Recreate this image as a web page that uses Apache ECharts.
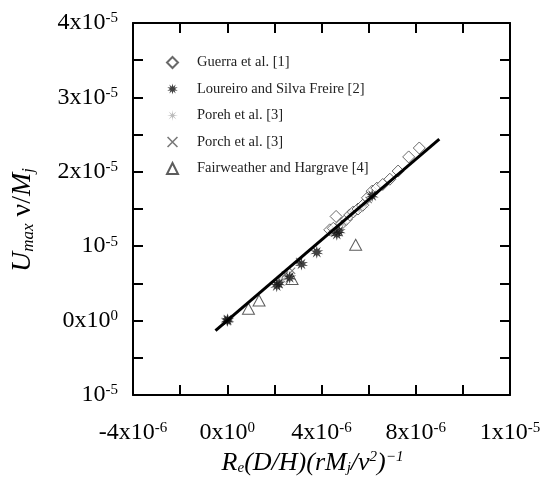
<!DOCTYPE html>
<html>
<head>
<meta charset="utf-8">
<script src="https://cdn.jsdelivr.net/npm/echarts@6/dist/echarts.min.js"></script>
<style>
  html, body { margin: 0; padding: 0; background: #fff; }
  #chart { width: 544px; height: 481px; }
</style>
</head>
<body>
<div id="chart"></div>
<script>
// Dimensionless maximum velocity against the scaled jet parameter.
const guerra = [
  [4.35e-6, 1.22e-5], [4.50e-6, 1.24e-5], [4.62e-6, 1.40e-5], [4.85e-6, 1.30e-5],
  [5.05e-6, 1.36e-5], [5.20e-6, 1.42e-5], [5.35e-6, 1.46e-5], [5.55e-6, 1.50e-5],
  [5.75e-6, 1.55e-5], [5.95e-6, 1.65e-5], [6.15e-6, 1.74e-5], [6.35e-6, 1.78e-5],
  [6.60e-6, 1.83e-5], [6.90e-6, 1.90e-5], [7.25e-6, 2.01e-5], [7.70e-6, 2.20e-5],
  [8.15e-6, 2.32e-5]
];
const loureiro = [
  [0, 0], [0.02e-6, 0.01e-5], [2.10e-6, 0.47e-5], [2.20e-6, 0.50e-5], [2.65e-6, 0.58e-5],
  [3.15e-6, 0.76e-5], [3.80e-6, 0.92e-5], [4.65e-6, 1.16e-5], [4.75e-6, 1.20e-5],
  [6.15e-6, 1.68e-5]
];
const porehA = [
  [2.35e-6, 0.55e-5], [2.55e-6, 0.60e-5], [4.45e-6, 1.20e-5], [4.90e-6, 1.30e-5],
  [5.30e-6, 1.44e-5], [5.60e-6, 1.50e-5], [5.85e-6, 1.56e-5]
];
const porehB = [
  [2.45e-6, 0.62e-5], [2.75e-6, 0.67e-5], [3.05e-6, 0.80e-5], [4.55e-6, 1.17e-5],
  [6.00e-6, 1.62e-5]
];
const fairweather = [
  [0.90e-6, 0.16e-5], [1.35e-6, 0.27e-5], [2.75e-6, 0.56e-5], [5.45e-6, 1.02e-5]
];
const fitLine = [[-0.5e-6, -0.135e-5], [9.0e-6, 2.44e-5]];

const seriesNames = [
  'Guerra et al. [1]',
  'Loureiro and Silva Freire [2]',
  'Poreh et al. [3]',
  'Porch et al. [3]',
  'Fairweather and Hargrave [4]'
];

// Tick labels: [mantissa part, exponent]
const xTickValues = [-4e-6, 0, 4e-6, 8e-6, 1.2e-5];
const xTickLabels = [['-4x10', '-6'], ['0x10', '0'], ['4x10', '-6'], ['8x10', '-6'], ['1x10', '-5']];
const yTickValues = [-1e-5, 0, 1e-5, 2e-5, 3e-5, 4e-5];
const yTickLabels = [['10', '-5'], ['0x10', '0'], ['10', '-5'], ['2x10', '-5'], ['3x10', '-5'], ['4x10', '-5']];

const SERIF = "'Liberation Serif', 'Times New Roman', serif";

function tickFormatter(values, labels) {
  return function (v) {
    const i = values.findIndex(t => Math.abs(t - v) < 1e-12);
    return i < 0 ? '' : '{b|' + labels[i][0] + '}{s|' + labels[i][1] + '}';
  };
}
const tickRich = {
  b: { fontFamily: SERIF, fontSize: 24, color: '#000', lineHeight: 24 },
  s: { fontFamily: SERIF, fontSize: 15, color: '#000', lineHeight: 15, verticalAlign: 'top' }
};

// Symbol outlines
function burstPath(n, rOut, rIn) {
  let d = '';
  for (let k = 0; k < 2 * n; k++) {
    const r = k % 2 === 0 ? rOut : rIn;
    const a = Math.PI * k / n;
    const x = (10 + r * Math.sin(a)).toFixed(2);
    const y = (10 - r * Math.cos(a)).toFixed(2);
    d += (k === 0 ? 'M' : 'L') + x + ',' + y;
  }
  return 'path://' + d + 'Z';
}
const burstSymbol = burstPath(10, 10, 4.5);
const asteriskSymbol = burstPath(8, 10, 2.6);
const crossSymbol = 'path://M0,1L1,0L10,9L9,10ZM9,0L10,1L1,10L0,9Z';

const axisLineStyle = { color: '#000', width: 2 };
const tickStyle = { show: true, inside: true, length: 10, lineStyle: { color: '#000', width: 2 } };

const xBase = { type: 'value', min: -4e-6, max: 1.2e-5, interval: 2e-6 };
const yBase = { type: 'value', min: -1e-5, max: 4e-5, interval: 0.5e-5 };

const chart = echarts.init(document.getElementById('chart'), null, { renderer: 'canvas' });
chart.setOption({
  animation: false,
  backgroundColor: '#fff',
  grid: { left: 133, top: 23, width: 377, height: 374, containLabel: false },
  legend: {
    orient: 'vertical',
    left: 161,
    top: 50,
    padding: 5,
    itemWidth: 11,
    itemHeight: 11,
    itemGap: 11.5,
    selectedMode: false,
    data: seriesNames,
    textStyle: {
      fontFamily: SERIF, fontSize: 14.5, color: '#222', lineHeight: 14,
      padding: [0, 0, 0, 14]
    }
  },
  xAxis: [
    Object.assign({}, xBase, {
      position: 'bottom',
      axisLine: { show: true, onZero: false, lineStyle: axisLineStyle },
      axisTick: tickStyle,
      splitLine: { show: false },
      axisLabel: { formatter: tickFormatter(xTickValues, xTickLabels), rich: tickRich, margin: 26, showMinLabel: true, showMaxLabel: true },
      name: '{i|R}{sub|e}{i|(D/H)(rM}{sub|j}{i|/ν}{sup|2}{i|)}{sup|−1}',
      nameLocation: 'middle',
      nameGap: 55,
      nameTextStyle: {
        padding: [0, 18, 0, 0],
        rich: {
          i: { fontFamily: SERIF, fontStyle: 'italic', fontSize: 26, color: '#000', lineHeight: 26 },
          sub: { fontFamily: SERIF, fontStyle: 'italic', fontSize: 15, color: '#000', lineHeight: 15, verticalAlign: 'bottom' },
          sup: { fontFamily: SERIF, fontStyle: 'italic', fontSize: 15, color: '#000', lineHeight: 15, verticalAlign: 'top' }
        }
      }
    }),
    Object.assign({}, xBase, {
      position: 'top',
      axisLine: { show: true, onZero: false, lineStyle: axisLineStyle },
      axisTick: tickStyle,
      splitLine: { show: false },
      axisLabel: { show: false }
    })
  ],
  yAxis: [
    Object.assign({}, yBase, {
      position: 'left',
      axisLine: { show: true, onZero: false, lineStyle: axisLineStyle },
      axisTick: tickStyle,
      splitLine: { show: false },
      axisLabel: { formatter: tickFormatter(yTickValues, yTickLabels), rich: tickRich, margin: 15, showMinLabel: true, showMaxLabel: true },
      name: '{i|U}{sub|max}{n| ν/}{i|M}{sub|j}',
      nameLocation: 'middle',
      nameRotate: 90,
      nameGap: 96,
      nameTextStyle: {
        padding: [0, 22, 0, 0],
        rich: {
          i: { fontFamily: SERIF, fontStyle: 'italic', fontSize: 28, color: '#000', lineHeight: 28 },
          n: { fontFamily: SERIF, fontSize: 28, color: '#000', lineHeight: 28 },
          sub: { fontFamily: SERIF, fontStyle: 'italic', fontSize: 17, color: '#000', lineHeight: 17, verticalAlign: 'bottom' }
        }
      }
    }),
    Object.assign({}, yBase, {
      position: 'right',
      axisLine: { show: true, onZero: false, lineStyle: axisLineStyle },
      axisTick: tickStyle,
      splitLine: { show: false },
      axisLabel: { show: false }
    })
  ],
  series: [
    {
      name: seriesNames[0], type: 'scatter', data: guerra,
      symbol: 'diamond', symbolSize: 12,
      itemStyle: { color: '#fff', borderColor: '#444', borderWidth: 1 }
    },
    {
      name: seriesNames[4], type: 'scatter', data: fairweather,
      symbol: 'triangle', symbolSize: [12, 11],
      itemStyle: { color: '#fff', borderColor: '#333', borderWidth: 1 }
    },
    {
      name: seriesNames[2], type: 'scatter', data: porehA,
      symbol: asteriskSymbol, symbolSize: 11,
      itemStyle: { color: '#aaa' }
    },
    {
      name: seriesNames[3], type: 'scatter', data: porehB,
      symbol: crossSymbol, symbolSize: 7,
      itemStyle: { color: '#555' }
    },
    {
      name: 'fit', type: 'line', data: fitLine,
      symbol: 'none', silent: true,
      lineStyle: { color: '#000', width: 3 }
    },
    {
      name: seriesNames[1], type: 'scatter', data: loureiro,
      symbol: burstSymbol, symbolSize: 13,
      itemStyle: { color: '#111' }
    }
  ]
});
</script>
</body>
</html>
